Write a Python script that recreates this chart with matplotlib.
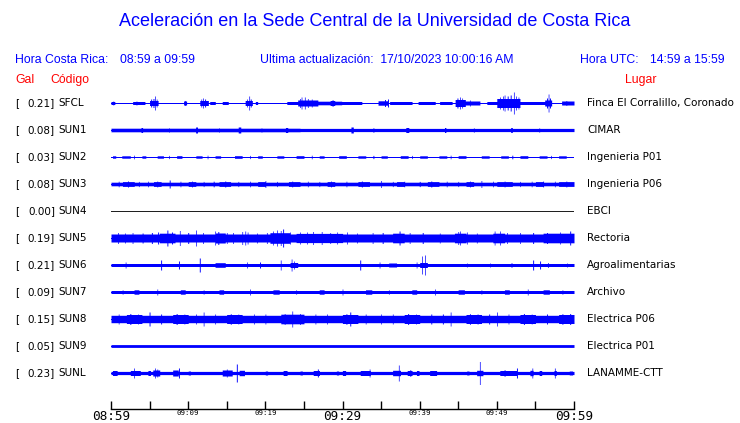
import numpy as np
import matplotlib
matplotlib.use("Agg")
import matplotlib.pyplot as plt

# ---------------- data ----------------
title = "Aceleración en la Sede Central de la Universidad de Costa Rica"
codes = ["SFCL", "SUN1", "SUN2", "SUN3", "SUN4", "SUN5", "SUN6", "SUN7", "SUN8", "SUN9", "SUNL"]
gal = ["0.21", "0.08", "0.03", "0.08", "0.00", "0.19", "0.21", "0.09", "0.15", "0.05", "0.23"]
places = ["Finca El Corralillo, Coronado", "CIMAR", "Ingenieria P01", "Ingenieria P06", "EBCI",
          "Rectoria", "Agroalimentarias", "Archivo", "Electrica P06", "Electrica P01", "LANAMME-CTT"]
tick_minutes = list(range(0, 61, 5))
tick_labels = ["08:59", "", "09:09", "", "09:19", "", "09:29", "", "09:39", "", "09:49", "", "09:59"]

# envelope: base half-amplitude (px), segments (t0, t1, amp px), spikes (t, amp px)
base = [0.0, 1.6, 0.0, 1.8, 0.0, 4.0, 1.5, 1.5, 3.7, 1.4, 1.6]
segments = [
    # SFCL
    [(0, 0.5, 1.5), (2.8, 4.4, 1.5), (5.0, 6.1, 2.5), (9.4, 9.8, 2), (11.5, 12.6, 2.5), (12.8, 13.5, 1.5),
     (14.4, 15.2, 1.5), (17.4, 18.3, 2.5), (18.7, 19.0, 1.5), (22.8, 24.5, 1.5), (24.2, 26.8, 3),
     (26.8, 29.9, 1.8), (28.4, 29.0, 2.5), (29.9, 32.5, 1.5), (34.6, 35.9, 2.2), (36.1, 39.0, 1.5),
     (39.8, 42.0, 1.5), (42.6, 44.2, 1.5), (44.6, 45.9, 3.5), (45.9, 47.8, 2), (48.7, 50.0, 1.5),
     (50.0, 53.0, 4.5), (53.0, 56.2, 1.5), (56.2, 57.1, 3), (58.4, 60, 2)],
    # SUN1
    [(0, 24.5, 1.8), (24.5, 30.3, 1.2), (3.9, 4.1, 2.5), (11.0, 11.2, 3), (16.5, 16.8, 3), (22.6, 22.9, 2.5),
     (31.1, 31.4, 3), (38.2, 38.6, 2.5), (43.2, 43.4, 2.5), (51.8, 52.0, 2.5)],
    # SUN2
    [(0.2, 0.6, 1.2), (1.4, 2.5, 1.2), (4.0, 4.5, 1.2), (6.0, 6.8, 1.2), (8.5, 9.2, 1.3), (11.0, 11.8, 1.2),
     (13.5, 14.2, 1.2), (16.0, 17.0, 1.3), (19.0, 19.6, 1.2), (21.5, 22.4, 1.2), (24.0, 25.0, 1.3),
     (27.0, 27.6, 1.2), (29.5, 30.5, 1.3), (32.0, 33.0, 1.2), (35.0, 35.8, 1.2), (37.5, 38.5, 1.3),
     (40.0, 41.0, 1.2), (42.5, 43.5, 1.2), (45.0, 46.0, 1.3), (48.0, 49.0, 1.2), (50.5, 51.5, 1.2),
     (53.0, 54.0, 1.3), (55.5, 56.5, 1.2), (58.0, 59.0, 1.2)],
    # SUN3
    [(1.5, 3.0, 2.4), (5.5, 6.5, 2.4), (10.0, 11.0, 2.4), (14.0, 15.5, 2.4), (19.0, 20.0, 2.4),
     (23.0, 24.5, 2.4), (28.0, 29.0, 2.4), (32.0, 33.5, 2.4), (37.0, 38.0, 2.4), (41.0, 42.5, 2.4),
     (46.0, 47.0, 2.4), (50.0, 52.0, 2.4), (55.0, 56.0, 2.4), (58.0, 60.0, 2.4)],
    # SUN4
    [],
    # SUN5
    [(6.3, 8.3, 4.8), (13.5, 14.8, 5), (20.6, 23.2, 5.3), (24.0, 30.0, 4.6), (36.5, 38.0, 4.8),
     (44.5, 46.0, 4.8), (49.5, 51.0, 4.8), (56.0, 60.0, 4.8)],
    # SUN6
    [(13.5, 14.8, 2.3), (23.2, 24.2, 2.5), (36.0, 37.0, 2), (40.0, 41.0, 2.5)],
    # SUN7
    [(3.0, 3.6, 2.2), (9.0, 9.6, 2.2), (14.0, 14.6, 2.2), (21.0, 21.8, 2.2), (27.0, 27.6, 2.2),
     (33.0, 33.8, 2.2), (39.0, 39.6, 2.2), (45.0, 45.8, 2.2), (51.0, 51.6, 2.2), (56.0, 56.8, 2.2)],
    # SUN8
    [(2.0, 4.0, 4.5), (8.0, 10.0, 4.5), (15.0, 17.0, 4.5), (22.0, 25.0, 4.8), (30.0, 32.0, 4.5),
     (38.0, 40.0, 4.5), (46.0, 48.0, 4.5), (53.0, 55.0, 4.5), (58.0, 60.0, 4.5)],
    # SUN9
    [],
    # SUNL
    [(0.2, 0.8, 2.5), (2.5, 3.8, 2.5), (4.8, 5.1, 2.5), (5.4, 6.3, 3), (8.0, 8.7, 3), (10.0, 10.3, 2),
     (14.4, 15.7, 3), (16.6, 17.3, 2.7), (20.0, 20.3, 2), (22.3, 22.8, 2.5), (24.5, 24.8, 2),
     (26.2, 27.0, 2.5), (29.2, 29.5, 2), (30.0, 30.4, 2.5), (32.3, 33.6, 2.5), (36.5, 37.5, 2.7),
     (38.4, 39.0, 2.5), (39.6, 39.9, 2.5), (41.3, 42.2, 2.5), (46.1, 46.4, 2), (47.4, 48.2, 2.7),
     (50.4, 52.6, 2.5), (54.3, 54.7, 2.7), (55.5, 55.8, 2.5), (57.4, 57.7, 2.5), (59.4, 59.8, 2)],
]
spikes = [
    # SFCL
    [(0.3, 2), (3.3, 2), (5.2, 4), (5.5, 4.5), (5.7, 7), (5.9, 4), (9.6, 2.5), (11.7, 4), (11.9, 5),
     (12.2, 4), (17.6, 4), (17.9, 7), (18.1, 4), (24.5, 4.5), (24.7, 6), (25.1, 6), (25.5, 4.5), (26.0, 4),
     (28.7, 3.5), (35.5, 3.5), (35.9, 4), (44.9, 5), (45.2, 6), (45.5, 5), (46.5, 3), (50.4, 6), (50.8, 7),
     (51.0, 8), (51.4, 7), (51.8, 8), (52.2, 11), (52.5, 7), (52.8, 6), (56.5, 5), (56.7, 9), (56.9, 5),
     (59.0, 2.5)],
    # SUN1
    [(4.0, 2.5), (11.0, 3), (16.6, 3), (22.7, 2.5), (7.5, 2.2), (14.0, 2.2), (19.5, 2.2), (34.0, 2.2),
     (47.0, 2.2), (55.5, 2.2)],
    # SUN2
    [(3.0, 1.8), (12.5, 1.8), (26.0, 1.8), (44.0, 1.8), (52.0, 1.8), (7.5, 1.6), (18.0, 1.6), (34.0, 1.6),
     (39.0, 1.6), (57.0, 1.6)],
    # SUN3
    [(1.0, 2.8), (2.2, 3), (3.6, 2.6), (4.8, 2.8), (6.0, 3), (7.6, 4), (9.0, 2.8), (10.5, 3), (12.0, 2.6),
     (13.3, 2.8), (14.8, 3), (16.5, 2.6), (18.0, 2.8), (20.0, 3.5), (21.5, 2.6), (23.5, 3), (25.5, 2.8),
     (27.0, 2.6), (28.5, 3), (30.5, 2.8), (32.5, 3), (35.0, 3.5), (36.5, 2.6), (38.0, 2.8), (40.0, 2.6),
     (41.5, 3), (43.5, 2.8), (45.0, 2.6), (46.5, 3), (48.0, 3.5), (49.5, 2.8), (51.0, 3), (53.0, 2.6),
     (54.5, 2.8), (56.0, 3), (57.5, 2.8), (59.0, 3)],
    # SUN4
    [],
    # SUN5
    [(0.9, 5.5), (1.8, 5), (2.8, 5.5), (4.1, 5), (5.3, 5.5), (6.1, 6), (7.3, 8), (7.9, 6), (8.9, 7.5),
     (10.0, 5.5), (11.0, 8), (11.9, 5.5), (13.5, 7), (13.9, 6.5), (15.0, 5.5), (15.8, 5.5), (17.0, 6.5),
     (17.4, 7), (17.7, 6), (18.9, 5), (20.2, 5.5), (21.0, 7), (21.5, 8), (22.0, 7.5), (22.3, 9), (23.2, 6),
     (24.5, 6), (25.4, 6), (26.2, 6.5), (27.3, 6.5), (28.4, 5.5), (29.3, 6), (30.6, 6), (31.9, 5),
     (33.9, 5.5), (35.2, 5.5), (37.4, 7), (38.7, 5.5), (40.4, 5.5), (42.6, 5), (45.0, 6.5), (45.2, 7),
     (46.1, 6), (47.4, 5), (49.7, 7), (50.4, 7), (51.3, 5.5), (53.0, 5.5), (54.7, 5.5), (56.5, 5.5),
     (58.2, 6), (59.5, 7)],
    # SUN6
    [(1.9, 3), (6.5, 5), (8.8, 4), (11.5, 7), (17.6, 3), (19.3, 3), (22.0, 5), (23.4, 6), (23.7, 4),
     (32.3, 5), (34.8, 3), (39.6, 3), (40.3, 9), (40.7, 10), (46.1, 2), (49.1, 2), (51.9, 2.5),
     (54.7, 5), (55.6, 4), (56.6, 2.5), (59.1, 2)],
    # SUN7
    [(6.0, 3), (18.0, 3), (30.0, 3), (42.0, 3), (54.0, 3), (1.5, 2.2), (12.0, 2.2), (24.0, 2.2),
     (36.0, 2.2), (48.0, 2.2), (58.5, 2.2)],
    # SUN8
    [(1.0, 5), (2.5, 5.5), (3.5, 5), (5.0, 7), (6.5, 5), (8.5, 5.5), (9.5, 5), (11.0, 5), (12.0, 7),
     (13.5, 5), (15.5, 5.5), (16.5, 5), (18.5, 5), (20.0, 5), (22.5, 5.5), (23.5, 8), (24.5, 5.5),
     (26.5, 5), (28.0, 5), (30.5, 5.5), (31.0, 7), (33.0, 5), (35.0, 5), (36.5, 5), (38.5, 5.5),
     (39.5, 5), (41.5, 5), (43.0, 5), (44.0, 7), (46.5, 5.5), (47.5, 5), (49.0, 5), (50.0, 7),
     (51.5, 5), (53.5, 5.5), (54.5, 5), (56.5, 5), (58.5, 5.5), (59.5, 5.5)],
    # SUN9
    [],
    # SUNL
    [(3.0, 5), (5.7, 5), (8.8, 5), (16.3, 9), (26.8, 4), (33.5, 4), (37.3, 8), (47.8, 11.5),
     (52.6, 5), (54.6, 5), (57.5, 5), (15.0, 4), (6.0, 4), (38.8, 3.5), (51.0, 3.5)],
]

# ---------------- figure ----------------
W, H = 740, 423
fig = plt.figure(figsize=(W / 100, H / 100), dpi=100)
fig.patch.set_facecolor("white")

def fx(x):
    return x / W

def fy(y):
    return 1 - y / H

BLUE = "#0000ff"
RED = "#ff0000"
sans = "Liberation Sans"

fig.text(fx(375), fy(22), title, color=BLUE, fontsize=12.95, family=sans, ha="center", va="center")
fig.text(fx(15), fy(60), "Hora Costa Rica:", color=BLUE, fontsize=8.8, family=sans, va="center")
fig.text(fx(120), fy(60), "08:59 a 09:59", color=BLUE, fontsize=8.8, family=sans, va="center")
fig.text(fx(260), fy(60), "Ultima actualización:  17/10/2023 10:00:16 AM", color=BLUE, fontsize=8.8,
         family=sans, va="center")
fig.text(fx(580), fy(60), "Hora UTC:", color=BLUE, fontsize=8.8, family=sans, va="center")
fig.text(fx(650), fy(60), "14:59 a 15:59", color=BLUE, fontsize=8.8, family=sans, va="center")
fig.text(fx(15), fy(80), "Gal", color=RED, fontsize=8.8, family=sans, va="center")
fig.text(fx(50), fy(80), "Código", color=RED, fontsize=8.8, family=sans, va="center")
fig.text(fx(641), fy(80), "Lugar", color=RED, fontsize=8.8, family=sans, va="center", ha="center")

# trace axes: rows 27 px apart, first centre at y=103
top_px, bot_px = 89.5, 386.5
x0_px, x1_px = 111, 574
ax = fig.add_axes([fx(x0_px), fy(bot_px), (x1_px - x0_px) / W, (bot_px - top_px) / H])
ax.set_xlim(0, 60)
ax.set_ylim(10.5, -0.5)
ax.axis("off")
row_px = 27.0

t = np.arange(0, 60.0001, 0.03)
for i in range(len(codes)):
    env = np.full_like(t, base[i])
    for (a, b, amp) in segments[i]:
        m = (t >= a) & (t <= b)
        env[m] = np.maximum(env[m], amp)
    for (ts, amp) in spikes[i]:
        m = np.abs(t - ts) <= 0.05
        env[m] = np.maximum(env[m], amp)
    e = env / row_px
    if codes[i] == "SUN4":
        ax.plot([0, 60], [i, i], color="#202020", lw=0.72, antialiased=False)
    else:
        ax.fill_between(t, i - e, i + e, step="mid", color=BLUE, lw=0, antialiased=False)
        ax.plot([0, 60], [i, i], color=BLUE, lw=0.72, antialiased=False)
    yp = 103 + 27 * i
    fig.text(fx(15), fy(yp), "[", fontsize=7.5, family="DejaVu Sans", va="center")
    fig.text(fx(55), fy(yp), gal[i] + "]", fontsize=7.5, family="DejaVu Sans", va="center", ha="right")
    fig.text(fx(58), fy(yp), codes[i], fontsize=7.5, family="DejaVu Sans", va="center")
    fig.text(fx(587), fy(yp), places[i], fontsize=7.5, family="DejaVu Sans", va="center")

# time axis
tax = fig.add_axes([fx(x0_px), fy(409), (x1_px - x0_px) / W, 8 / H])
tax.set_xlim(0, 60)
tax.set_ylim(0, 1)
for s in ["top", "left", "right"]:
    tax.spines[s].set_visible(False)
tax.spines["bottom"].set_linewidth(1.0)
tax.set_yticks([])
tax.set_xticks(tick_minutes)
tax.set_xticklabels(tick_labels, family="DejaVu Sans Mono")
tax.tick_params(axis="x", direction="in", length=5.6, width=1.0, pad=1)
for lab, m in zip(tax.get_xticklabels(), tick_minutes):
    if m in (0, 30, 60):
        lab.set_fontsize(9.2)
    else:
        lab.set_fontsize(5.3)
tax.patch.set_alpha(0)

fig.savefig("out.png", dpi=100, facecolor="white")
